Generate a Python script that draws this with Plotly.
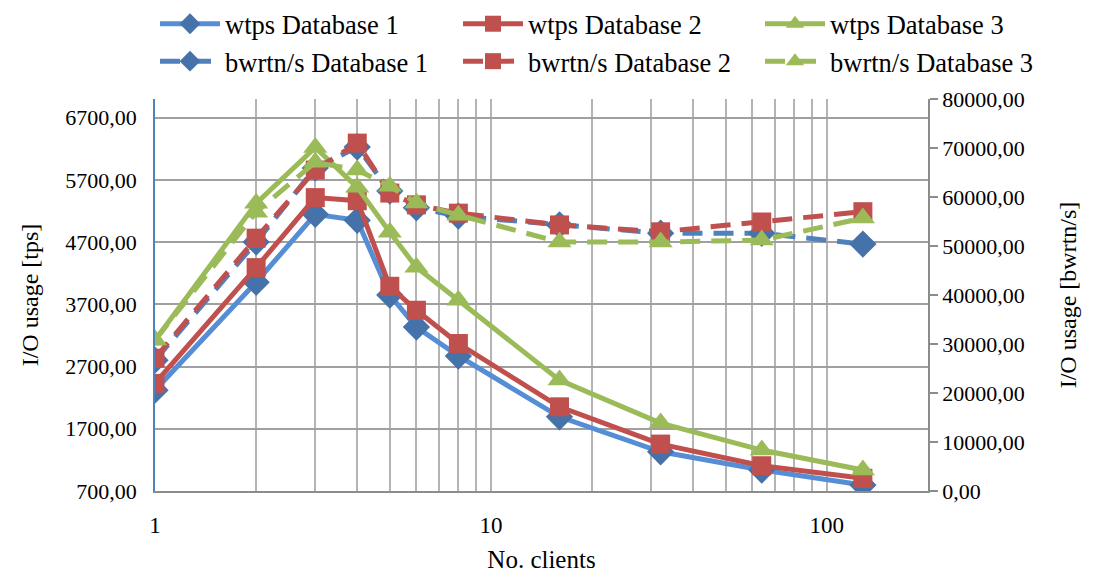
import plotly.graph_objects as go

clients = [1, 2, 3, 4, 5, 6, 8, 16, 32, 64, 128]

wtps_db1 = [2320, 4055, 5146, 5050, 3850, 3335, 2870, 1893, 1331, 1037, 796]
wtps_db2 = [2430, 4290, 5415, 5365, 3990, 3605, 3070, 2053, 1454, 1106, 904]
wtps_db3 = [3124, 5323, 6222, 5580, 4857, 4295, 3766, 2482, 1791, 1358, 1037]

bwrtn_db1 = [26700, 50800, 65900, 70200, 61200, 57800, 56100, 54300, 52600, 52600, 50400]
bwrtn_db2 = [27100, 51600, 65500, 71000, 60800, 58400, 56700, 54300, 52900, 54900, 57000]
bwrtn_db3 = [30800, 56900, 67100, 65500, 62200, 58800, 56300, 50800, 50800, 51200, 55700]

x_tickvals = [1, 2, 3, 4, 5, 6, 7, 8, 9, 10, 20, 30, 40, 50, 60, 70, 80, 90, 100, 200]
x_ticktext = ["1", "", "", "", "", "", "", "", "", "10", "", "", "", "", "", "", "", "", "100", ""]

FONT = "Liberation Serif, Times New Roman, serif"

blue_line = "#558ED5"
blue_mark = "#4672AA"
red = "#C0504D"
green = "#9BBB59"

fig = go.Figure()

def add(name, y, line_color, mark_color, symbol, msize, dash, yaxis, legend):
    fig.add_trace(go.Scatter(
        x=clients, y=y, name=name, mode="lines+markers", yaxis=yaxis, legend=legend,
        line=dict(color=line_color, width=5, dash=dash),
        marker=dict(symbol=symbol, size=msize, color=mark_color, line=dict(width=0)),
    ))

add("wtps Database 1", wtps_db1, blue_line, blue_mark, "diamond", 21, "solid", "y", "legend")
add("wtps Database 2", wtps_db2, red, red, "square", 19, "solid", "y", "legend2")
add("wtps Database 3", wtps_db3, green, green, "triangle-up", 21, "solid", "y", "legend3")
add("bwrtn/s Database 1", bwrtn_db1, "#4F81BD", blue_mark, "diamond", 21, "20px,11px", "y2", "legend")
add("bwrtn/s Database 2", bwrtn_db2, red, red, "square", 19, "20px,11px", "y2", "legend2")
add("bwrtn/s Database 3", bwrtn_db3, green, green, "triangle-up", 21, "20px,11px", "y2", "legend3")

PLOT_L, PLOT_W = 155, 773

def leg(xpx):
    return dict(
        orientation="v", xref="paper", yref="container",
        x=(xpx - PLOT_L) / PLOT_W, y=1.0,
        xanchor="left", yanchor="top",
        itemwidth=60, font=dict(family=FONT, size=26.5), tracegroupgap=0,
        bgcolor="rgba(0,0,0,0)",
    )

fig.update_layout(
    width=1101, height=573,
    margin=dict(l=155, r=173, t=99, b=82),
    paper_bgcolor="white", plot_bgcolor="white",
    separators=",.",
    font=dict(family=FONT, size=22, color="black"),
    showlegend=True,
    legend=leg(155), legend2=leg(458), legend3=leg(760),
    xaxis=dict(
        type="log", range=[0, 2.30103], tickvals=x_tickvals, ticktext=x_ticktext,
        showgrid=True, gridcolor="#B4B4B4", gridwidth=1.5,
        showline=True, linecolor="#8C8C8C", linewidth=1.5,
        ticks="", ticklabelstandoff=13, tickfont=dict(size=23),
        title=dict(text="No. clients", font=dict(size=25)),
        zeroline=False, automargin=False,
    ),
    yaxis=dict(
        range=[700, 7000], tick0=700, dtick=1000, tickformat=".2f",
        showgrid=True, gridcolor="#A0A0A0", gridwidth=1.5,
        showline=True, linecolor="#4F81BD", linewidth=1.5,
        ticks="", ticklabelstandoff=12, tickfont=dict(size=22),
        title=dict(text="I/O usage [tps]", font=dict(size=24), standoff=20),
        zeroline=False, automargin=False,
    ),
    yaxis2=dict(
        range=[0, 80000], tick0=0, dtick=10000, tickformat=".2f",
        overlaying="y", side="right", showgrid=False,
        showline=True, linecolor="#8C8C8C", linewidth=1.5,
        ticks="outside", ticklen=8, tickcolor="#8C8C8C", tickwidth=1.5,
        tickfont=dict(size=22),
        title=dict(text="I/O usage [bwrtn/s]", font=dict(size=24), standoff=36),
        zeroline=False, automargin=False,
    ),
)

fig.write_html("out.html")
